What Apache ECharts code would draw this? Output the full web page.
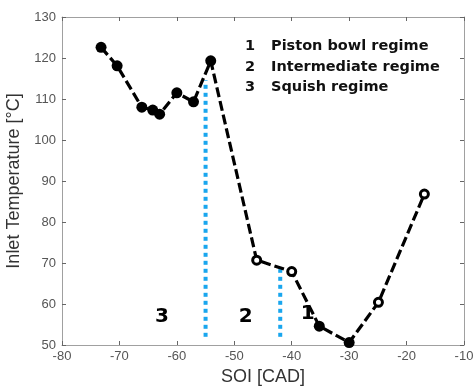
<!DOCTYPE html>
<html><head><meta charset="utf-8">
<script src="https://cdn.jsdelivr.net/npm/echarts@6/dist/echarts.min.js"></script>
<style>html,body{margin:0;padding:0;background:#fff}#c{width:475px;height:387px}</style>
</head><body><div id="c"></div>
<script>
const soi = [-73.2, -70.4, -66.1, -64.2, -63.0, -60.0, -57.1, -54.1, -46.1, -40.0, -35.2, -30.0, -24.9, -16.9];
const temp = [122.6, 118.1, 108.0, 107.3, 106.3, 111.5, 109.3, 119.3, 70.7, 67.9, 54.6, 50.6, 60.4, 86.8];
const hollow = [false, false, false, false, false, false, false, false, true, true, false, false, true, true];
const boundaryX = [-55, -42];
const boundaryTop = [114.6, 68.5];
const boundaryBottom = 52;
const regimeNums = ['3', '2', '1'];
const regimeX = [-62.6, -48.0, -37.2];
const regimeY = [57, 57, 57.5];
const legendLines = [['1', 'Piston bowl regime'], ['2', 'Intermediate regime'], ['3', 'Squish regime']];
const xTicks = [-80, -10, 10];
const yTicks = [50, 130, 10];

const axisGray = '#a0a0a0';
const labelGray = '#555';
const chart = echarts.init(document.getElementById('c'));
const pts = soi.map((x, i) => ({
  value: [x, temp[i]],
  symbolSize: hollow[i] ? 8 : 11,
  itemStyle: hollow[i] ? {color: '#fff', borderColor: '#000', borderWidth: 3} : {color: '#000', borderColor: '#000', borderWidth: 0}
}));
const boundarySeries = boundaryX.map((x, i) => ({
  type: 'line', data: [[x, boundaryBottom], [x, boundaryTop[i]]], symbol: 'none', z: 1,
  lineStyle: {color: '#19a6ee', width: 4, type: [4, 4]}, silent: true
}));
const yAxisBase = {
  type: 'value', min: yTicks[0], max: yTicks[1], interval: yTicks[2],
  axisLine: {show: true, lineStyle: {color: axisGray, width: 1}},
  axisTick: {show: true, inside: true, length: 4, lineStyle: {color: '#666'}},
  splitLine: {show: false}
};
const xAxisBase = {
  type: 'value', min: xTicks[0], max: xTicks[1], interval: xTicks[2],
  axisLine: {show: true, onZero: false, lineStyle: {color: axisGray, width: 1}},
  axisTick: {show: true, inside: true, length: 4, lineStyle: {color: '#666'}},
  splitLine: {show: false}
};
chart.setOption({
  animation: false,
  grid: {left: 62, right: 11, top: 17, bottom: 42, containLabel: false, outerBoundsMode: 'none'},
  xAxis: [
    Object.assign({}, xAxisBase, {position: 'bottom', name: 'SOI [CAD]', nameLocation: 'middle', nameGap: 23,
      nameTextStyle: {fontFamily: 'Liberation Sans', fontSize: 18, color: '#333'},
      axisLabel: {fontFamily: 'Liberation Sans', fontSize: 13, color: labelGray, margin: 5}}),
    Object.assign({}, xAxisBase, {position: 'top', axisLabel: {show: false}})
  ],
  yAxis: [
    Object.assign({}, yAxisBase, {position: 'left', name: 'Inlet Temperature [°C]', nameLocation: 'middle', nameGap: 29,
      nameTextStyle: {fontFamily: 'Liberation Sans', fontSize: 18, color: '#333'},
      axisLabel: {fontFamily: 'Liberation Sans', fontSize: 13, color: labelGray, margin: 6}}),
    Object.assign({}, yAxisBase, {position: 'right', axisLabel: {show: false}})
  ],
  series: [
    ...boundarySeries,
    {type: 'line', data: pts, symbol: 'circle', z: 3,
     lineStyle: {color: '#000', width: 3.2, type: [10, 4]}},
    {type: 'scatter', data: regimeX.map((x, i) => ({value: [x, regimeY[i]], name: regimeNums[i]})),
     symbolSize: 0, silent: true, z: 4, itemStyle: {opacity: 1},
     label: {show: true, position: 'inside', formatter: p => p.name,
       fontFamily: 'DejaVu Sans', fontWeight: 'bold', fontSize: 20, color: '#000'}}
  ],
  graphic: legendLines.flatMap((l, i) => [
    {type: 'text', left: 245, top: 39 + i * 20.5, style: {text: l[0], font: 'bold 14.5px "DejaVu Sans"', fill: '#111'}},
    {type: 'text', left: 271, top: 39 + i * 20.5, style: {text: l[1], font: 'bold 14.5px "DejaVu Sans"', fill: '#111'}}
  ])
});
</script></body></html>
